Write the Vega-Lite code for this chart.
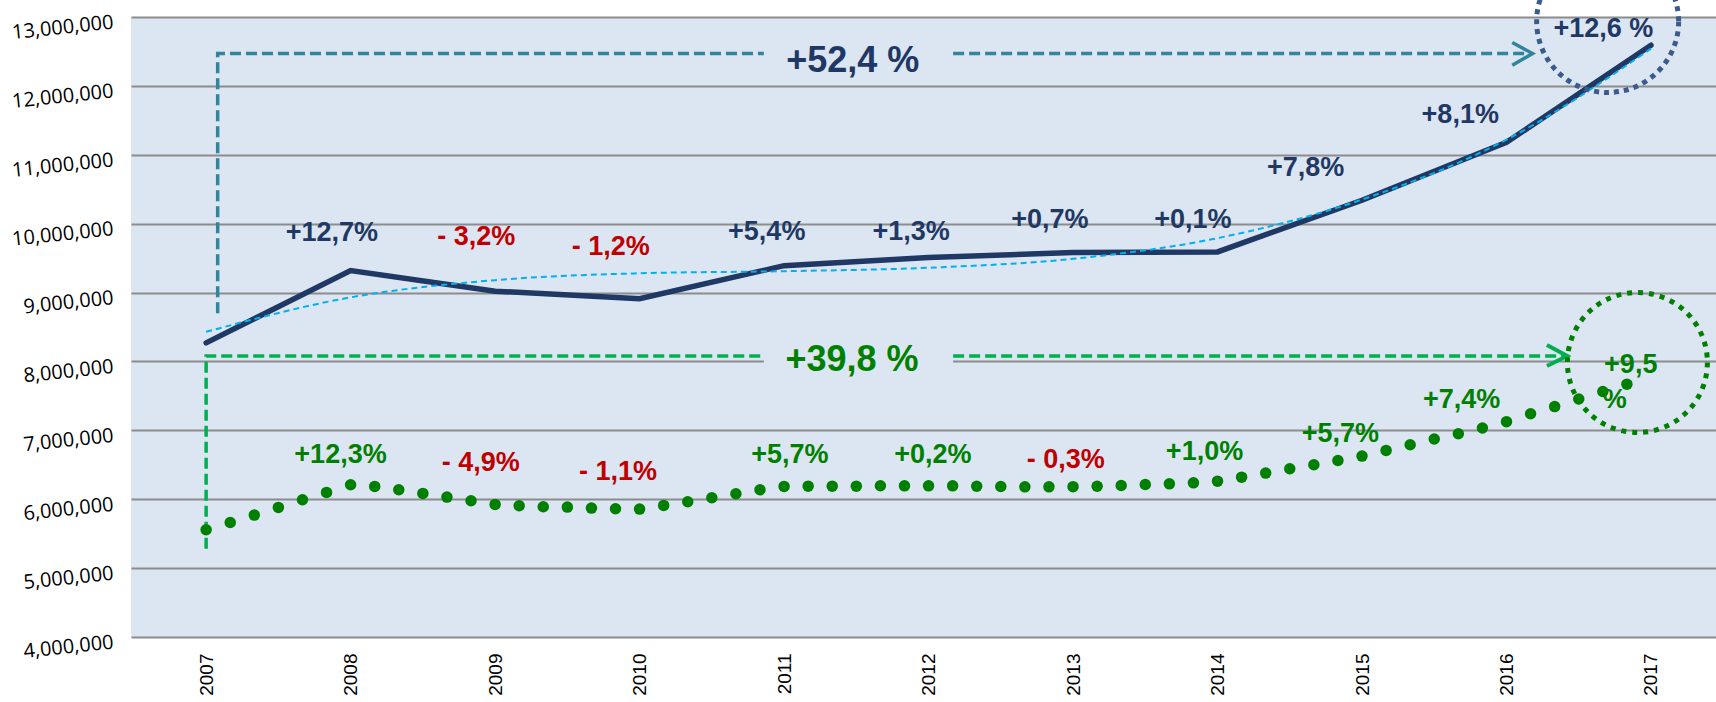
{
  "$schema": "https://vega.github.io/schema/vega-lite/v6.json",
  "width": 1585,
  "height": 620,
  "autosize": {"type": "none"},
  "padding": {"left": 131, "top": 17, "right": 0, "bottom": 65},
  "background": "#ffffff",
  "config": {"view": {"fill": "#DCE6F2", "stroke": null}},
  "datasets": {
    "navy": [
      {"x": 2007, "y": 8270000}, {"x": 2008, "y": 9320000}, {"x": 2009, "y": 9020000},
      {"x": 2010, "y": 8910000}, {"x": 2011, "y": 9390000}, {"x": 2012, "y": 9510000},
      {"x": 2013, "y": 9580000}, {"x": 2014, "y": 9590000}, {"x": 2015, "y": 10340000},
      {"x": 2016, "y": 11180000}, {"x": 2017, "y": 12590000}
    ],
    "trend": [
      {"x": 2007, "y": 8430000}, {"x": 2008, "y": 8930000}, {"x": 2009, "y": 9180000},
      {"x": 2010, "y": 9280000}, {"x": 2011, "y": 9310000}, {"x": 2012, "y": 9360000},
      {"x": 2013, "y": 9490000}, {"x": 2014, "y": 9790000}, {"x": 2015, "y": 10350000},
      {"x": 2016, "y": 11220000}, {"x": 2017, "y": 12540000}
    ],
    "green": [
      {"x": 2007.0, "y": 5557000}, {"x": 2007.1667, "y": 5663000}, {"x": 2007.3333, "y": 5770000},
      {"x": 2007.5, "y": 5881000}, {"x": 2007.6667, "y": 5992000}, {"x": 2007.8333, "y": 6099000},
      {"x": 2008.0, "y": 6210000}, {"x": 2008.1667, "y": 6186000}, {"x": 2008.3333, "y": 6137000},
      {"x": 2008.5, "y": 6084000}, {"x": 2008.6667, "y": 6031000}, {"x": 2008.8333, "y": 5978000},
      {"x": 2009.0, "y": 5925000}, {"x": 2009.1667, "y": 5905000}, {"x": 2009.3333, "y": 5891000},
      {"x": 2009.5, "y": 5886000}, {"x": 2009.6667, "y": 5871000}, {"x": 2009.8333, "y": 5862000},
      {"x": 2010.0, "y": 5857000}, {"x": 2010.1667, "y": 5910000}, {"x": 2010.3333, "y": 5963000},
      {"x": 2010.5, "y": 6021000}, {"x": 2010.6667, "y": 6079000}, {"x": 2010.8333, "y": 6137000},
      {"x": 2011.0, "y": 6186000}, {"x": 2011.1667, "y": 6190000}, {"x": 2011.3333, "y": 6190000},
      {"x": 2011.5, "y": 6190000}, {"x": 2011.6667, "y": 6195000}, {"x": 2011.8333, "y": 6194000},
      {"x": 2012.0, "y": 6194000}, {"x": 2012.1667, "y": 6194000}, {"x": 2012.3333, "y": 6189000},
      {"x": 2012.5, "y": 6184000}, {"x": 2012.6667, "y": 6180000}, {"x": 2012.8333, "y": 6180000},
      {"x": 2013.0, "y": 6182000}, {"x": 2013.1667, "y": 6189000}, {"x": 2013.3333, "y": 6199000},
      {"x": 2013.5, "y": 6214000}, {"x": 2013.6667, "y": 6223000}, {"x": 2013.8333, "y": 6238000},
      {"x": 2014.0, "y": 6262000}, {"x": 2014.1667, "y": 6320000}, {"x": 2014.3333, "y": 6379000},
      {"x": 2014.5, "y": 6442000}, {"x": 2014.6667, "y": 6500000}, {"x": 2014.8333, "y": 6563000},
      {"x": 2015.0, "y": 6626000}, {"x": 2015.1667, "y": 6709000}, {"x": 2015.3333, "y": 6791000},
      {"x": 2015.5, "y": 6874000}, {"x": 2015.6667, "y": 6951000}, {"x": 2015.8333, "y": 7034000},
      {"x": 2016.0, "y": 7126000}, {"x": 2016.1667, "y": 7240000}, {"x": 2016.3333, "y": 7345000},
      {"x": 2016.5, "y": 7455000}, {"x": 2016.6667, "y": 7563000}, {"x": 2016.8333, "y": 7670000}
    ],
    "tealPath": [
      {"g": 1, "o": 1, "x": 2007.08, "y": 8700000},
      {"g": 1, "o": 2, "x": 2007.08, "y": 12470000},
      {"g": 1, "o": 3, "x": 2010.86, "y": 12470000},
      {"g": 2, "o": 1, "x": 2012.17, "y": 12470000},
      {"g": 2, "o": 2, "x": 2016.16, "y": 12470000}
    ],
    "tealArrow": [
      {"o": 1, "x": 2016.04, "y": 12630000},
      {"o": 2, "x": 2016.18, "y": 12470000},
      {"o": 3, "x": 2016.04, "y": 12300000}
    ],
    "greenPath": [
      {"g": 1, "o": 1, "x": 2007.0, "y": 5280000},
      {"g": 1, "o": 2, "x": 2007.0, "y": 8080000},
      {"g": 1, "o": 3, "x": 2010.86, "y": 8080000},
      {"g": 2, "o": 1, "x": 2012.17, "y": 8080000},
      {"g": 2, "o": 2, "x": 2016.40, "y": 8080000}
    ],
    "greenArrow": [
      {"o": 1, "x": 2016.28, "y": 8240000},
      {"o": 2, "x": 2016.42, "y": 8080000},
      {"o": 3, "x": 2016.28, "y": 7935000}
    ],
    "patch": [
      {"x": 2010.86, "x2": 2012.17, "y": 7850000, "y2": 8200000}
    ],
    "labels": [
      {"x": 2007.87, "y": 9868000, "t": "+12,7%", "k": "total"},
      {"x": 2008.87, "y": 9810000, "t": "- 3,2%", "k": "neg"},
      {"x": 2009.80, "y": 9666000, "t": "- 1,2%", "k": "neg"},
      {"x": 2010.88, "y": 9884000, "t": "+5,4%", "k": "total"},
      {"x": 2011.88, "y": 9880000, "t": "+1,3%", "k": "total"},
      {"x": 2012.84, "y": 10057000, "t": "+0,7%", "k": "total"},
      {"x": 2013.83, "y": 10057000, "t": "+0,1%", "k": "total"},
      {"x": 2014.61, "y": 10810000, "t": "+7,8%", "k": "total"},
      {"x": 2015.68, "y": 11583000, "t": "+8,1%", "k": "total"},
      {"x": 2016.67, "y": 12833000, "t": "+12,6 %", "k": "total"},
      {"x": 2007.93, "y": 6641000, "t": "+12,3%", "k": "sub"},
      {"x": 2008.90, "y": 6525000, "t": "- 4,9%", "k": "neg"},
      {"x": 2009.85, "y": 6394000, "t": "- 1,1%", "k": "neg"},
      {"x": 2011.04, "y": 6641000, "t": "+5,7%", "k": "sub"},
      {"x": 2012.03, "y": 6641000, "t": "+0,2%", "k": "sub"},
      {"x": 2012.95, "y": 6568000, "t": "- 0,3%", "k": "neg"},
      {"x": 2013.91, "y": 6685000, "t": "+1,0%", "k": "sub"},
      {"x": 2014.85, "y": 6950000, "t": "+5,7%", "k": "sub"},
      {"x": 2015.69, "y": 7440000, "t": "+7,4%", "k": "sub"},
      {"x": 2016.86, "y": 7950000, "t": "+9,5", "k": "sub"},
      {"x": 2016.75, "y": 7440000, "t": "%", "k": "sub"}
    ],
    "bigLabels": [
      {"x": 2011.475, "y": 12360000, "t": "+52,4 %", "k": "total"},
      {"x": 2011.47, "y": 8020000, "t": "+39,8 %", "k": "sub"}
    ],
    "navyCircle": [{"x": 2016.70, "y": 12935000}],
    "greenCircle": [{"x": 2016.906, "y": 7985000}]
  },
  "encoding": {
    "x": {
      "field": "x", "type": "quantitative",
      "scale": {"domain": [2006.48, 2017.45], "nice": false, "zero": false},
      "axis": {
        "title": null, "values": [2007, 2008, 2009, 2010, 2011, 2012, 2013, 2014, 2015, 2016, 2017],
        "format": "d", "labelAngle": -90, "labelAlign": "right", "labelBaseline": "middle",
        "labelFont": "Liberation Sans", "labelFontSize": 19, "labelColor": "#000000",
        "labelPadding": 16, "grid": false, "ticks": false, "domain": false
      }
    },
    "y": {
      "field": "y", "type": "quantitative",
      "scale": {"domain": [4000000, 13000000], "nice": false, "zero": false},
      "axis": {
        "title": null,
        "values": [4000000, 5000000, 6000000, 7000000, 8000000, 9000000, 10000000, 11000000, 12000000, 13000000],
        "format": ",.0f", "labelAngle": -6, "labelAlign": "right", "labelBaseline": "middle",
        "labelFont": "Open Sans", "labelFontSize": 20, "labelColor": "#000000",
        "labelPadding": 18, "labelOffset": 5,
        "grid": true, "gridColor": "#8C8C8C", "gridWidth": 2,
        "ticks": false, "domain": false
      }
    }
  },
  "layer": [
    {
      "data": {"name": "patch"},
      "mark": {"type": "rect", "fill": "#DCE6F2"},
      "encoding": {"x2": {"field": "x2"}, "y2": {"field": "y2"}}
    },
    {
      "data": {"name": "tealPath"},
      "mark": {"type": "line", "stroke": "#31849B", "strokeWidth": 3.5, "strokeDash": [11, 5]},
      "encoding": {"detail": {"field": "g"}, "order": {"field": "o"}}
    },
    {
      "data": {"name": "tealArrow"},
      "mark": {"type": "line", "stroke": "#31849B", "strokeWidth": 3.5},
      "encoding": {"order": {"field": "o"}}
    },
    {
      "data": {"name": "greenPath"},
      "mark": {"type": "line", "stroke": "#00B050", "strokeWidth": 3.5, "strokeDash": [11, 5]},
      "encoding": {"detail": {"field": "g"}, "order": {"field": "o"}}
    },
    {
      "data": {"name": "greenArrow"},
      "mark": {"type": "line", "stroke": "#00B050", "strokeWidth": 4},
      "encoding": {"order": {"field": "o"}}
    },
    {
      "data": {"name": "navy"},
      "mark": {"type": "line", "stroke": "#1F3864", "strokeWidth": 5.5, "strokeCap": "round", "strokeJoin": "miter"},
      "encoding": {}
    },
    {
      "data": {"name": "trend"},
      "mark": {"type": "line", "stroke": "#00B0F0", "strokeWidth": 2, "strokeDash": [6, 4], "interpolate": "monotone"},
      "encoding": {}
    },
    {
      "data": {"name": "green"},
      "mark": {"type": "point", "shape": "circle", "filled": true, "size": 132, "color": "#008000", "opacity": 1},
      "encoding": {}
    },
    {
      "data": {"name": "labels"},
      "mark": {"type": "text", "font": "Liberation Sans", "fontWeight": "bold", "fontSize": 27, "align": "center", "baseline": "middle"},
      "encoding": {
        "text": {"field": "t"},
        "color": {"field": "k", "type": "nominal", "scale": {"domain": ["total", "sub", "neg"], "range": ["#1F3864", "#008000", "#C00000"]}, "legend": null}
      }
    },
    {
      "data": {"name": "bigLabels"},
      "mark": {"type": "text", "font": "Liberation Sans", "fontWeight": "bold", "fontSize": 36, "align": "center", "baseline": "middle"},
      "encoding": {
        "text": {"field": "t"},
        "color": {"field": "k", "type": "nominal", "scale": {"domain": ["total", "sub", "neg"], "range": ["#1F3864", "#008000", "#C00000"]}, "legend": null}
      }
    },
    {
      "data": {"name": "navyCircle"},
      "mark": {"type": "point", "shape": "circle", "filled": false, "size": 20164, "stroke": "#3B5B8C", "strokeWidth": 5, "strokeDash": [5, 5], "opacity": 1},
      "encoding": {}
    },
    {
      "data": {"name": "greenCircle"},
      "mark": {"type": "point", "shape": "circle", "filled": false, "size": 19600, "stroke": "#008000", "strokeWidth": 5, "strokeDash": [5, 6], "opacity": 1},
      "encoding": {}
    }
  ]
}
